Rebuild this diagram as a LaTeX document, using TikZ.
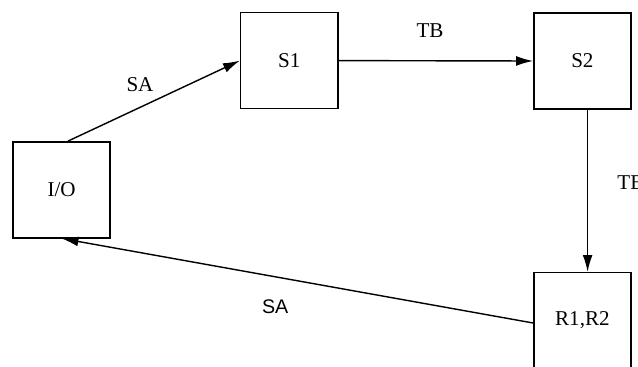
\documentclass[tikz,border=0pt]{standalone}
\usepackage{fontspec}
\setmainfont{Liberation Serif}
\setsansfont{Liberation Sans}
\usetikzlibrary{arrows.meta}

\begin{document}
\begin{tikzpicture}[line width=1pt,
    unit/.style={draw, minimum width=2.43cm, minimum height=2.4cm, inner sep=0pt, font=\fontsize{15}{18}\selectfont},
    lbl/.style={font=\fontsize{15}{18}\selectfont},
    flow/.style={-{Latex[length=12pt,width=7pt]}}]
    \useasboundingbox (0,0) rectangle (15.95,9.175);
    \clip (0,0) rectangle (15.95,9.175);
    % boxes
    \node[unit] (io) at (1.54,4.43) {I/O};
    \node[unit] (s1) at (7.23,7.66) {S1};
    \node[unit] (s2) at (14.56,7.65) {S2};
    \node[unit] (rr) at (14.56,1.16) {R1,R2};
    % labels
    \node[lbl] (sa1) at (3.5,7.05) {SA};
    \node[lbl] (tb1) at (10.75,8.42) {TB};
    \node[lbl, anchor=west] (tb2) at (15.3,4.6) {TB};
    \node[lbl, font=\sffamily\fontsize{14}{17}\selectfont] (sa2) at (6.88,1.5) {SA};
    % arrows
    \draw[flow] ([xshift=0.16cm]io.north) -- (s1.west);
    \draw[flow] (s1.east) -- (s2.west);
    \draw[flow] ([xshift=0.13cm]s2.south) -- ([xshift=0.13cm]rr.north);
    \draw[flow] ([yshift=-0.06cm]rr.west) -- (io.south);
\end{tikzpicture}
\end{document}
